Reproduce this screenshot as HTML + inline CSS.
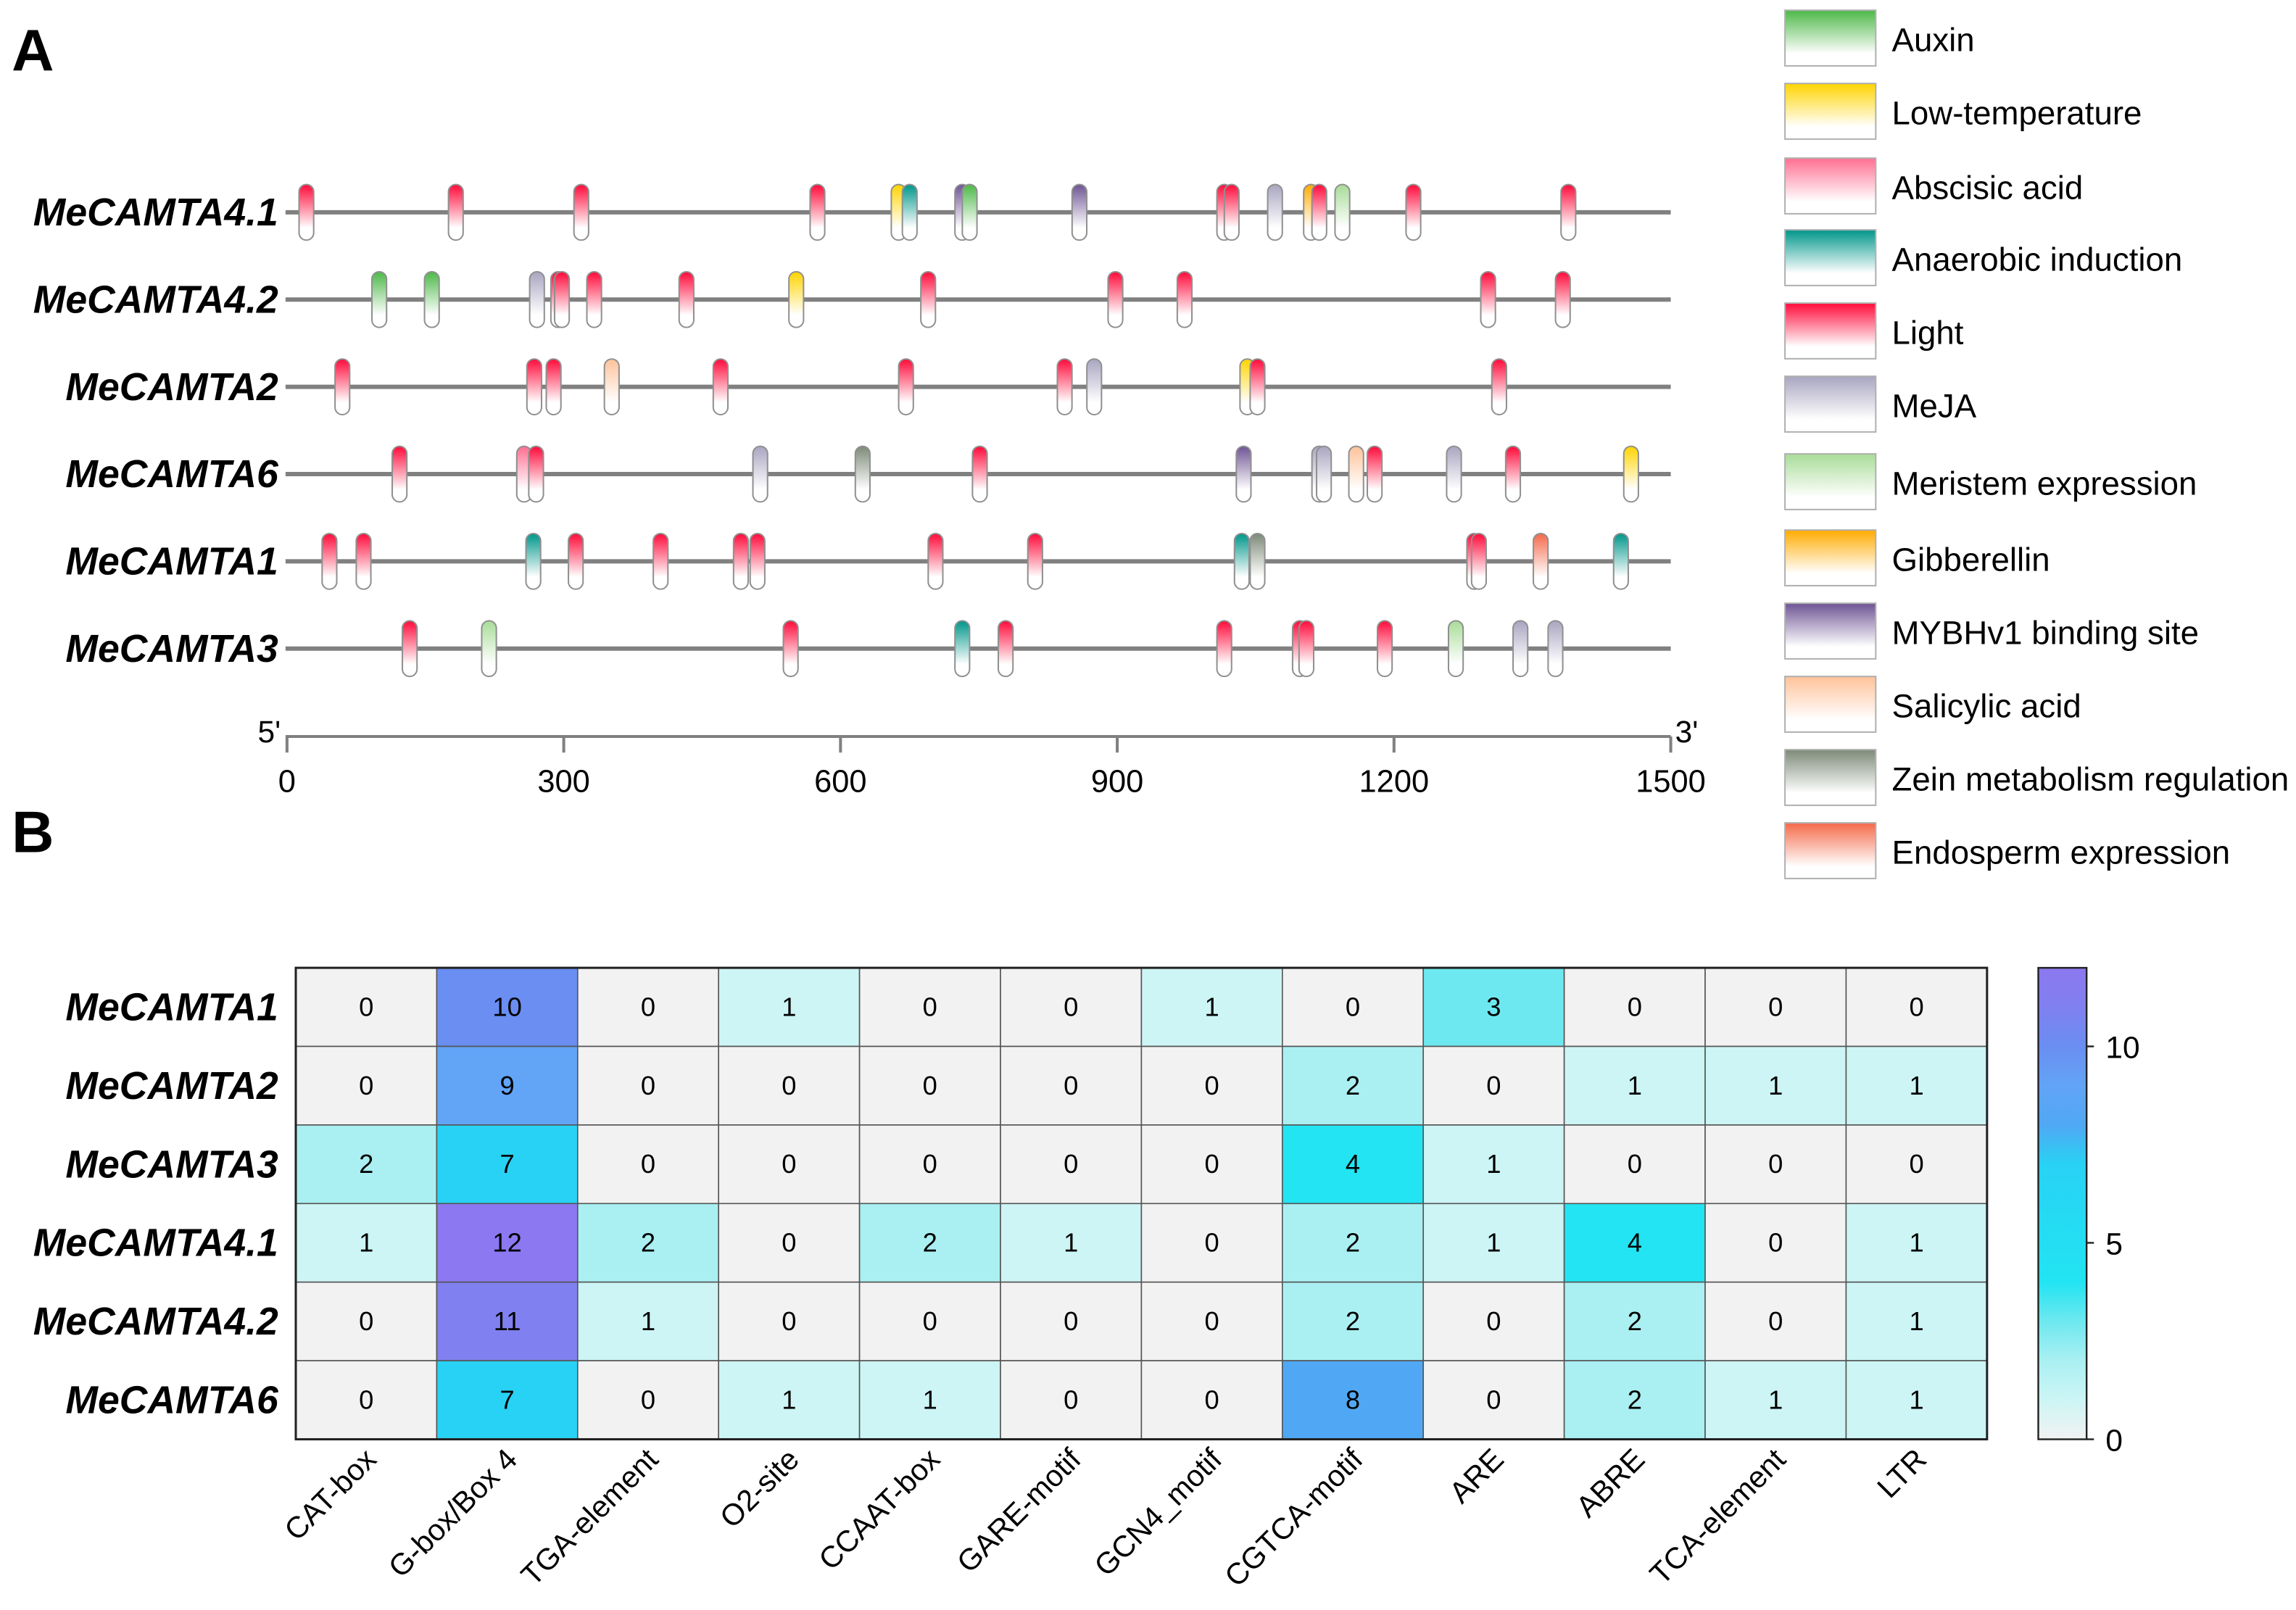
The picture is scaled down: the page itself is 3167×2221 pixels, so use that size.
<!DOCTYPE html>
<html><head><meta charset="utf-8"><style>
html,body{margin:0;padding:0;background:#fff}
svg{display:block}
text{font-family:"Liberation Sans",Arial,sans-serif}
</style></head><body>
<svg id="fig" width="3167" height="2221" viewBox="0 0 1568 1099.6" preserveAspectRatio="none" xmlns="http://www.w3.org/2000/svg">
<defs id="defs"></defs>
<text x="8" y="48" font-size="40" font-weight="bold">A</text>
<text x="8" y="582" font-size="40" font-weight="bold">B</text>
<g id="panelA"></g>
<g id="legend"></g>
<g id="panelB"></g>
</svg>
<script>
const NS="http://www.w3.org/2000/svg";
function mk(tag,attrs,parent){const e=document.createElementNS(NS,tag);for(const k in attrs)e.setAttribute(k,attrs[k]);if(parent)parent.appendChild(e);return e;}

// ---- Panel A data ----
const genesA=["MeCAMTA4.1","MeCAMTA4.2","MeCAMTA2","MeCAMTA6","MeCAMTA1","MeCAMTA3"];
const elementTypes=["Auxin","Low-temperature","Abscisic acid","Anaerobic induction","Light","MeJA","Meristem expression","Gibberellin","MYBHv1 binding site","Salicylic acid","Zein metabolism regulation","Endosperm expression"];
const typeColors=["#4db848","#ffd400","#ff6f91","#00968a","#ff0a3a","#a8a5c0","#a8dc98","#ffab00","#6e5494","#ffc29a","#7d8a78","#f46a4a"];
const elemPos=[
 [21,183,319,575,663,675,732,740,859,1016,1024,1071,1110,1119,1144,1221,1389],
 [100,157,271,294,298,333,433,552,695,898,973,1302,1383],
 [60,268,289,352,470,671,843,875,1041,1052,1314],
 [122,257,270,513,624,751,1037,1119,1124,1159,1179,1265,1329,1457],
 [46,83,267,313,405,492,510,703,811,1035,1052,1287,1292,1359,1446],
 [133,219,546,732,779,1016,1098,1105,1190,1267,1337,1375]
];
const elemType=[
 [4,4,4,4,1,3,8,0,8,4,4,5,7,4,6,4,4],
 [0,0,5,4,4,4,4,1,4,4,4,4,4],
 [4,4,4,9,4,4,4,5,1,4,4],
 [4,2,4,5,10,4,8,5,5,9,4,5,4,1],
 [4,4,3,4,4,4,4,4,4,3,10,4,4,11,3],
 [4,6,4,3,4,4,4,4,4,6,5,5]
];
const axisTicks=[0,300,600,900,1200,1500];

const defs=document.getElementById('defs');
typeColors.forEach((c,i)=>{
 const g=mk('linearGradient',{id:'g'+i,x1:0,y1:0,x2:0,y2:1},defs);
 mk('stop',{offset:'0',  'stop-color':c},g);
 mk('stop',{offset:'0.78','stop-color':'#fff'},g);
 mk('stop',{offset:'1','stop-color':'#fff'},g);
});
const A=document.getElementById('panelA');
const xA=v=>196+v*(945/1500);
const rowY=i=>145+i*59.6;
genesA.forEach((gname,i)=>{
 const y=rowY(i);
 const t=mk('text',{x:190,y:y+9,'font-size':26.5,'font-weight':'bold','font-style':'italic','text-anchor':'end'},A);
 t.textContent=gname;
 
 
 const l=mk('line',{x1:195,x2:1141,y1:y,y2:y,stroke:'#808080','stroke-width':3},A);
 
 
 elemPos[i].forEach((p,j)=>{
  const r=mk('rect',{x:xA(p)-5,y:y-19,width:10,height:38,rx:5,ry:5,fill:'url(#g'+elemType[i][j]+')',stroke:'#909090','stroke-width':1},A);
  
  
 });
});
const ax=mk('line',{x1:195,x2:1141,y1:503,y2:503,stroke:'#808080','stroke-width':2},A);


axisTicks.forEach(v=>{
 mk('line',{x1:xA(v),x2:xA(v),y1:503,y2:514,stroke:'#808080','stroke-width':2},A);
 const t=mk('text',{x:xA(v),y:541,'font-size':21.5,'text-anchor':'middle'},A);
 t.textContent=v;
 
 
});
const t5=mk('text',{x:176,y:507,'font-size':21},A);t5.textContent="5'";


const t3=mk('text',{x:1144,y:507,'font-size':21},A);t3.textContent="3'";



// legend
const L=document.getElementById('legend');
const legY=[7,57,108,157,207,257,310,362,412,462,512,562];
elementTypes.forEach((n,i)=>{
 const r=mk('rect',{x:1219,y:legY[i],width:62,height:38,fill:'url(#g'+i+')',stroke:'#b0b0b0','stroke-width':1},L);
 
 
 const t=mk('text',{x:1292,y:legY[i]+28,'font-size':22.6},L);
 t.textContent=n;
 
 
});

// ---- Panel B data ----
const genesB=["MeCAMTA1","MeCAMTA2","MeCAMTA3","MeCAMTA4.1","MeCAMTA4.2","MeCAMTA6"];
const motifs=["CAT-box","G-box/Box 4","TGA-element","O2-site","CCAAT-box","GARE-motif","GCN4_motif","CGTCA-motif","ARE","ABRE","TCA-element","LTR"];
const counts=[
 [0,10,0,1,0,0,1,0,3,0,0,0],
 [0,9,0,0,0,0,0,2,0,1,1,1],
 [2,7,0,0,0,0,0,4,1,0,0,0],
 [1,12,2,0,2,1,0,2,1,4,0,1],
 [0,11,1,0,0,0,0,2,0,2,0,1],
 [0,7,0,1,1,0,0,8,0,2,1,1]
];
const cbTicks=[0,5,10];
const stops=[[0,[242,242,242]],[1,[205,245,245]],[2,[170,240,242]],[3,[110,232,240]],[4,[34,228,242]],[7,[40,210,244]],[8,[80,168,244]],[9,[98,164,246]],[10,[106,142,242]],[11,[128,128,240]],[12,[140,120,240]]];
function col(v){for(let i=0;i<stops.length-1;i++){const a=stops[i],b=stops[i+1];if(v<=b[0]){const f=(v-a[0])/(b[0]-a[0]);return 'rgb('+a[1].map((c,k)=>Math.round(c+(b[1][k]-c)*f)).join(',')+')';}}return 'rgb(140,120,240)';}
const B=document.getElementById('panelB');
const X0=202,X1=1357,Y0=661,Y1=983;
const cw=(X1-X0)/motifs.length, ch=(Y1-Y0)/genesB.length;
genesB.forEach((g,r)=>{
 const t=mk('text',{x:190,y:Y0+ch*r+ch/2+9,'font-size':26.5,'font-weight':'bold','font-style':'italic','text-anchor':'end'},B);
 t.textContent=g;
 
 
 motifs.forEach((m,c)=>{
  const v=counts[r][c];
  const rc=mk('rect',{x:X0+c*cw,y:Y0+r*ch,width:cw,height:ch,fill:col(v),stroke:'#555','stroke-width':0.8},B);
  
  
  const tx=mk('text',{x:X0+c*cw+cw/2,y:Y0+r*ch+ch/2+6,'font-size':18,'text-anchor':'middle'},B);
  tx.textContent=v;
  
  
 });
});
const fr=mk('rect',{x:X0,y:Y0,width:X1-X0,height:Y1-Y0,fill:'none',stroke:'#222','stroke-width':1.5},B);


motifs.forEach((m,c)=>{
 const cx=X0+c*cw+cw/2+8, cy=998;
 const t=mk('text',{x:cx,y:cy,'font-size':20.5,'text-anchor':'end',transform:'rotate(-45 '+cx+' '+cy+')'},B);
 t.textContent=m;
 
 
});
// colorbar
const cbX=1392,cbW=33,vmax=12;
const yC=v=>Y1-(v/vmax)*(Y1-Y0);
const cg=mk('linearGradient',{id:'cbg',x1:0,y1:1,x2:0,y2:0},defs);
stops.forEach(s=>mk('stop',{offset:s[0]/vmax,'stop-color':col(s[0])},cg));
const cb=mk('rect',{x:cbX,y:Y0,width:cbW,height:Y1-Y0,fill:'url(#cbg)',stroke:'#222','stroke-width':1.2},B);


cbTicks.forEach(v=>{
 mk('line',{x1:cbX+cbW,x2:cbX+cbW+5,y1:yC(v),y2:yC(v),stroke:'#222','stroke-width':1.2},B);
 const t=mk('text',{x:cbX+cbW+13,y:yC(v)+8,'font-size':21},B);
 t.textContent=v;
 
 
});
</script>
</body></html>
